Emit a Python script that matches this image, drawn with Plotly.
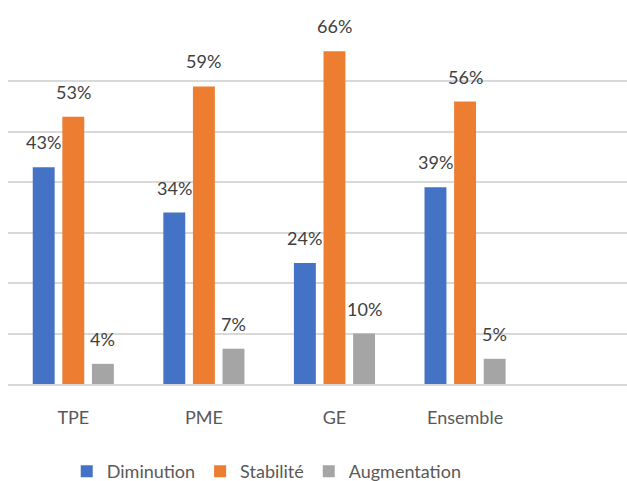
import plotly.graph_objects as go

categories = ["TPE", "PME", "GE", "Ensemble"]
diminution = [0.43, 0.34, 0.24, 0.39]
stabilite = [0.53, 0.59, 0.66, 0.56]
augmentation = [0.04, 0.07, 0.10, 0.05]

series = [
    ("Diminution", diminution, "#4472C4"),
    ("Stabilité", stabilite, "#ED7D31"),
    ("Augmentation", augmentation, "#A5A5A5"),
]

W, H = 627, 481
margin = dict(l=8, r=0, t=31, b=97, autoexpand=False)
x_range = [-0.5, 4.24]
bargap = 0.32
bargroupgap = 0.26
font_family = "Lato, Noto Sans, sans-serif"

fig = go.Figure()
for name, vals, color in series:
    fig.add_trace(go.Bar(
        name=name, x=categories, y=vals,
        marker=dict(color=color, line=dict(width=0)),
        hoverinfo="skip",
    ))

# value labels above each bar, shifted sideways to sit on their bar
plot_w = W - margin["l"] - margin["r"]
cat_px = plot_w / (x_range[1] - x_range[0])
slot_px = cat_px * (1 - bargap) / len(series)
annotations = []
for i, (name, vals, color) in enumerate(series):
    for cat, v in zip(categories, vals):
        annotations.append(dict(
            x=cat, y=v, xref="x", yref="y",
            text=f"{round(v * 100)}%",
            showarrow=False, yanchor="bottom",
            xshift=(i - 1) * slot_px, yshift=12,
            font=dict(family=font_family, size=18, color="#404040"),
        ))

fig.update_layout(
    width=W, height=H,
    margin=margin,
    paper_bgcolor="white", plot_bgcolor="white",
    barmode="group", bargap=bargap, bargroupgap=bargroupgap,
    font=dict(family=font_family, size=18, color="#595959"),
    annotations=annotations,
    showlegend=True,
    legend=dict(
        orientation="h", x=0.418, xanchor="center", y=-0.248, yanchor="middle",
        font=dict(family=font_family, size=18, color="#595959"),
        itemwidth=30, traceorder="normal",
    ),
    xaxis=dict(
        range=x_range, showgrid=False, zeroline=False,
        showline=True, linecolor="#D9D9D9", linewidth=2,
        ticks="", ticklabelstandoff=16,
        tickfont=dict(family=font_family, size=18, color="#595959"),
    ),
    yaxis=dict(
        range=[0, 0.7], dtick=0.1, showticklabels=False,
        showgrid=True, gridcolor="#D9D9D9", gridwidth=2,
        zeroline=False,
    ),
)

fig.write_html("out.html")
